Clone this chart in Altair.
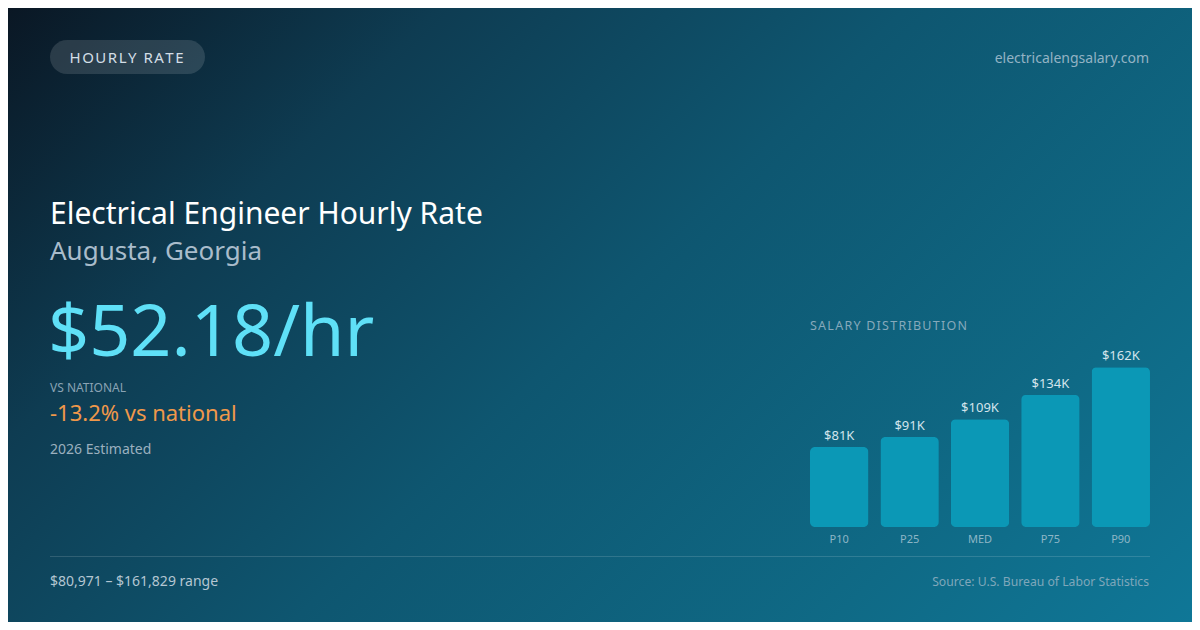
import altair as alt
import pandas as pd

# ---- data ----
categories = ["P10", "P25", "MED", "P75", "P90"]
values_k = [80.971, 91, 109, 134, 161.829]
value_labels = ["$81K", "$91K", "$109K", "$134K", "$162K"]

badge_text = "HOURLY RATE"
site = "electricalengsalary.com"
title = "Electrical Engineer Hourly Rate"
subtitle = "Augusta, Georgia"
headline = "$52.18/hr"
vs_label = "VS NATIONAL"
vs_value = "-13.2% vs national"
estimate = "2026 Estimated"
range_text = "$80,971 \u2013 $161,829 range"
source = "Source: U.S. Bureau of Labor Statistics"
dist_title = "SALARY DISTRIBUTION"

OFF = 8  # page margin
W, H = 1184, 614

# 135deg-like gradient in bounding-box units
_a = (W + H) / (W * W + H * H)
GX2, GY2 = _a * W, _a * H


def spaced(s, sep="\u200a"):
    return sep.join(list(s))


df = pd.DataFrame({"cat": categories, "val": values_k, "lab": value_labels})
one = pd.DataFrame({"a": [0]})

bg = alt.Chart(one).mark_rect(
    color=alt.LinearGradient(
        gradient="linear",
        x1=0, y1=0, x2=GX2, y2=GY2,
        stops=[
            alt.GradientStop(offset=0, color="#0a1724"),
            alt.GradientStop(offset=0.24, color="#0e3c52"),
            alt.GradientStop(offset=0.5, color="#0e5670"),
            alt.GradientStop(offset=0.8, color="#0f6a86"),
            alt.GradientStop(offset=1, color="#0f7797"),
        ],
    )
).encode(x=alt.value(0), x2=alt.value(W), y=alt.value(0), y2=alt.value(H))

pill = alt.Chart(one).mark_rect(
    color="#ffffff", opacity=0.13, cornerRadius=17
).encode(x=alt.value(50 - OFF), x2=alt.value(205 - OFF), y=alt.value(40 - OFF), y2=alt.value(74 - OFF))

rule = alt.Chart(one).mark_rule(color="#ffffff", opacity=0.14, strokeWidth=1).encode(
    x=alt.value(50 - OFF), x2=alt.value(1150 - OFF), y=alt.value(556.5 - OFF)
)


def txt(text, x, y, size, color, align="left", weight="normal"):
    return alt.Chart(one).mark_text(
        text=text, align=align, baseline="alphabetic", font="Noto Sans",
        fontSize=size, color=color, fontWeight=weight,
    ).encode(x=alt.value(x - OFF), y=alt.value(y - OFF))


texts = [
    txt(spaced(badge_text), 126.5, 63, 15, "#d3dee6", align="center"),
    txt(site, 1149, 63, 14, "#93b3c4", align="right"),
    txt(title, 50, 224, 30, "#ffffff"),
    txt(subtitle, 50, 260, 26, "#a9bccb"),
    txt(headline, 48, 356, 72, "#5fe0f7"),
    txt(vs_label, 50, 391.5, 12, "#8aa3b4"),
    txt(vs_value, 50, 420.5, 22, "#f0984a"),
    txt(estimate, 50, 454, 14, "#9bb0bf"),
    txt(range_text, 50, 585.5, 14, "#b4c6d2"),
    txt(source, 1149, 585.5, 12.2, "#7fa7ba", align="right"),
    txt(spaced(dist_title), 810, 330, 12.5, "#86a9bb"),
]

xs = alt.Scale(domain=categories, range=[810 - OFF, 1150 - OFF], paddingInner=0.17, paddingOuter=0)
ys = alt.Scale(domain=[0, 162], range=[527 - OFF, 367 - OFF], nice=False, zero=True)

base = alt.Chart(df)
bars = base.mark_bar(color="#0b98b6", cornerRadius=5).encode(
    x=alt.X("cat:N", scale=xs, axis=None, sort=categories),
    y=alt.Y("val:Q", scale=ys, axis=None),
)
bar_vals = base.mark_text(
    baseline="alphabetic", dy=-7, font="Noto Sans", fontSize=13, color="#d3e4ec"
).encode(
    x=alt.X("cat:N", scale=xs, axis=None, sort=categories),
    y=alt.Y("val:Q", scale=ys, axis=None),
    text="lab:N",
)
bar_cats = base.mark_text(
    baseline="alphabetic", font="Noto Sans", fontSize=11, color="#8db6c6"
).encode(
    x=alt.X("cat:N", scale=xs, axis=None, sort=categories),
    y=alt.value(542.5 - OFF),
    text="cat:N",
)

chart = alt.layer(bg, pill, rule, *texts, bars, bar_vals, bar_cats).properties(
    width=W, height=H, padding=0, autosize=alt.AutoSizeParams(type="none")
).configure_view(stroke=None).configure(background="#0b1826")

chart.save("out.html", embed_options={"renderer": "svg", "actions": False})
